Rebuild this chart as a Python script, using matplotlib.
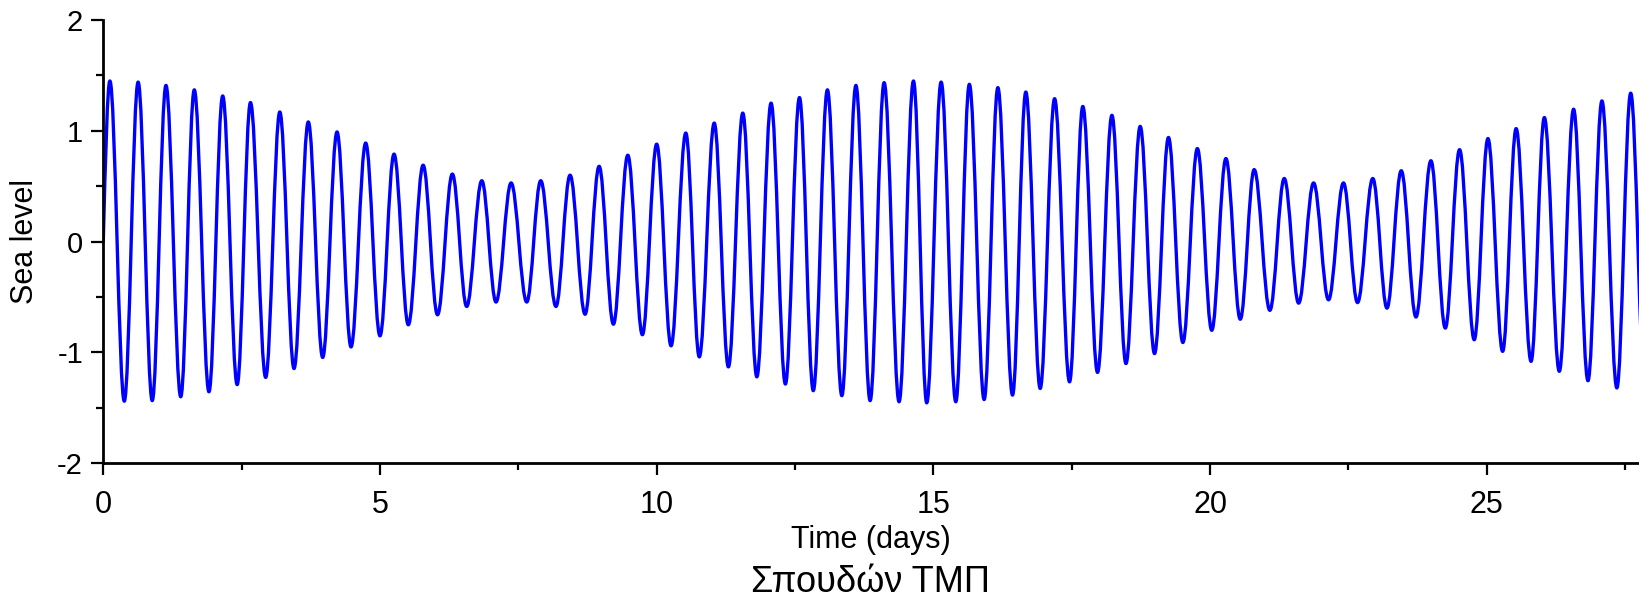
import matplotlib
matplotlib.use("Agg")
import matplotlib.pyplot as plt
from matplotlib.path import Path
from matplotlib.patches import PathPatch
from matplotlib.ticker import MultipleLocator

# ---- data (extrema of the sea-level curve) ----
start_t = 0.0
start_v = 0.0

peak_t = [0.12, 0.63, 1.133, 1.645, 2.158, 2.66, 3.19, 3.705, 4.224, 4.742,
          5.254, 5.78, 6.308, 6.84, 7.37, 7.905, 8.435, 8.96, 9.478, 10.0,
          10.526, 11.04, 11.556, 12.067, 12.58, 13.085, 13.6, 14.11, 14.64, 15.14,
          15.65, 16.165, 16.67, 17.19, 17.70, 18.226, 18.737, 19.248, 19.77, 20.286,
          20.797, 21.34, 21.87, 22.41, 22.94, 23.454, 23.99, 24.508, 25.02, 25.53,
          26.04, 26.568, 27.08, 27.6]
peak_v = [1.45, 1.44, 1.41, 1.37, 1.315, 1.255, 1.17, 1.08, 0.99, 0.89,
          0.79, 0.69, 0.61, 0.55, 0.53, 0.55, 0.60, 0.68, 0.78, 0.88,
          0.98, 1.07, 1.16, 1.25, 1.30, 1.37, 1.41, 1.435, 1.45, 1.44,
          1.42, 1.39, 1.35, 1.29, 1.22, 1.14, 1.04, 0.94, 0.84, 0.75,
          0.65, 0.57, 0.53, 0.53, 0.57, 0.64, 0.73, 0.83, 0.93, 1.02,
          1.12, 1.195, 1.27, 1.34]
trough_t = [0.38, 0.885, 1.40, 1.91, 2.42, 2.935, 3.447, 3.965, 4.477, 5.0,
            5.512, 6.04, 6.567, 7.097, 7.652, 8.18, 8.706, 9.218, 9.742, 10.26,
            10.77, 11.296, 11.81, 12.326, 12.83, 13.346, 13.857, 14.38, 14.88, 15.405,
            15.917, 16.43, 16.93, 17.46, 17.966, 18.48, 18.996, 19.508, 20.03, 20.545,
            21.08, 21.6, 22.14, 22.664, 23.196, 23.72, 24.25, 24.773, 25.286, 25.8,
            26.31, 26.828, 27.35, 27.86]
trough_v = [-1.44, -1.435, -1.40, -1.355, -1.29, -1.225, -1.145, -1.045, -0.95, -0.85,
            -0.75, -0.66, -0.585, -0.545, -0.545, -0.585, -0.655, -0.745, -0.84, -0.94,
            -1.04, -1.13, -1.22, -1.285, -1.345, -1.39, -1.435, -1.445, -1.455, -1.445,
            -1.425, -1.385, -1.325, -1.265, -1.18, -1.10, -1.01, -0.91, -0.80, -0.70,
            -0.62, -0.555, -0.525, -0.55, -0.60, -0.68, -0.78, -0.885, -0.99, -1.08,
            -1.17, -1.255, -1.32, -1.37]

x_ticks = [0, 5, 10, 15, 20, 25]
y_ticks = [-2, -1, 0, 1, 2]
x_label = "Time (days)"
y_label = "Sea level"
footer = "Σπουδών ΤΜΠ"

# ---- build a smooth path through the extrema ----
ext_t, ext_v = [], []
for pt, pv, tt, tv in zip(peak_t, peak_v, trough_t, trough_v):
    ext_t += [pt, tt]
    ext_v += [pv, tv]

verts = [(start_t, start_v)]
codes = [Path.MOVETO]
dx = ext_t[0] - start_t
dy = ext_v[0] - start_v
verts += [(start_t + dx / 3, start_v + 0.5236 * dy),
          (ext_t[0] - 0.36 * dx, ext_v[0]),
          (ext_t[0], ext_v[0])]
codes += [Path.CURVE4] * 3
k = 0.3642
for i in range(1, len(ext_t)):
    x0, y0 = ext_t[i - 1], ext_v[i - 1]
    x1, y1 = ext_t[i], ext_v[i]
    d = x1 - x0
    verts += [(x0 + k * d, y0), (x1 - k * d, y1), (x1, y1)]
    codes += [Path.CURVE4] * 3

plt.rcParams['font.family'] = ['Liberation Sans', 'DejaVu Sans']
plt.rcParams['axes.unicode_minus'] = False

fig = plt.figure(figsize=(16.39, 5.96), dpi=100)
ax = fig.add_axes([0.063, 0.2227, 0.937, 0.7437])

patch = PathPatch(Path(verts, codes), facecolor='none', edgecolor='#0000ff',
                  lw=2.4, joinstyle='round', capstyle='round')
ax.add_patch(patch)

ax.set_xlim(0, 27.75)
ax.set_ylim(-2, 2)
ax.set_xticks(x_ticks)
ax.set_yticks(y_ticks)
ax.xaxis.set_minor_locator(MultipleLocator(2.5))
ax.yaxis.set_minor_locator(MultipleLocator(0.5))

for s in ['top', 'right']:
    ax.spines[s].set_visible(False)
for s in ['left', 'bottom']:
    ax.spines[s].set_linewidth(2.0)
    ax.spines[s].set_color('black')

ax.tick_params(axis='both', which='major', direction='out', length=8.5, width=1.6, color='black')
ax.tick_params(axis='both', which='minor', direction='out', length=5, width=1.6, color='black')
ax.tick_params(axis='y', which='major', labelsize=21, pad=6)
ax.tick_params(axis='x', which='major', labelsize=22, pad=10.5)

ax.set_xlabel(x_label, fontsize=22, labelpad=3.5)
ax.set_ylabel(y_label, fontsize=22)
ax.yaxis.set_label_coords(-0.041, 0.5)

fig.text(0.531, 0.006, footer, fontsize=26, ha='center', va='baseline')

fig.savefig("out.png", dpi=100)
